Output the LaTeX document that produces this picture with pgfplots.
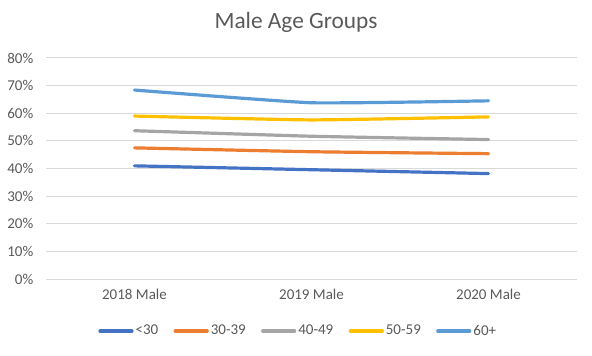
\documentclass[border=0pt]{standalone}
\usepackage{fontspec}
\setmainfont{Carlito}
\usepackage{pgfplots}
\pgfplotsset{compat=1.18}
\definecolor{cA}{HTML}{4472C4}
\definecolor{cB}{HTML}{ED7D31}
\definecolor{cC}{HTML}{A5A5A5}
\definecolor{cD}{HTML}{FFC000}
\definecolor{cE}{HTML}{5B9BD5}
\definecolor{txt}{HTML}{595959}
\definecolor{grd}{HTML}{D9D9D9}
\begin{document}
\begin{tikzpicture}
\path[use as bounding box] (0,0) rectangle (444pt,266.25pt);
\node[text=txt, font=\fontsize{17.5}{21}\selectfont] at (222pt,249.3pt) {Male Age Groups};
\begin{axis}[
  at={(34.5pt,56.8pt)}, anchor=south west,
  scale only axis, width=398.25pt, height=166pt,
  xmin=-0.5, xmax=2.5, ymin=0, ymax=0.8,
  xtick={0,1,2}, xticklabels={2018 Male,2019 Male,2020 Male},
  ytick={0,0.1,0.2,0.3,0.4,0.5,0.6,0.7,0.8},
  yticklabels={0\%,10\%,20\%,30\%,40\%,50\%,60\%,70\%,80\%},
  ticklabel style={text=txt, font=\fontsize{11.25}{13}\selectfont},
  yticklabel style={xshift=-6pt},
  xticklabel style={yshift=-4pt},
  major tick length=0pt,
  axis line style={draw=none},
  ymajorgrids, grid style={grd, line width=0.75pt},
  legend style={at={(0.475,-0.234)}, anchor=center, draw=none, fill=none,
    legend columns=-1, font=\fontsize{11.25}{13}\selectfont, text=txt,
    /tikz/every even column/.append style={column sep=10pt},
    nodes={inner sep=1.5pt}},
  legend image code/.code={\draw[#1, line width=2.4pt, line cap=round] (0pt,0pt) -- (24pt,0pt);},
  every axis plot/.append style={line width=2.4pt, line cap=round, line join=round, mark=none, smooth, tension=0.25},
]
\addplot[cA] coordinates {(0,0.410) (1,0.396) (2,0.382)};
\addlegendentry{<30}
\addplot[cB] coordinates {(0,0.475) (1,0.461) (2,0.454)};
\addlegendentry{30-39}
\addplot[cC] coordinates {(0,0.537) (1,0.517) (2,0.505)};
\addlegendentry{40-49}
\addplot[cD] coordinates {(0,0.590) (1,0.576) (2,0.587)};
\addlegendentry{50-59}
\addplot[cE] coordinates {(0,0.684) (1,0.638) (2,0.645)};
\addlegendentry{60+}
\end{axis}
\end{tikzpicture}
\end{document}
